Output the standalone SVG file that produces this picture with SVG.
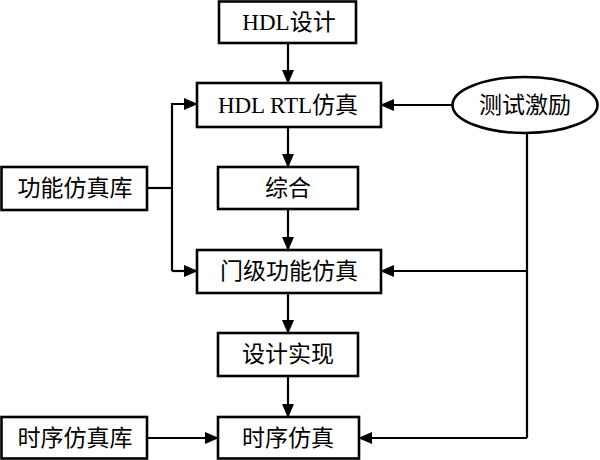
<svg xmlns="http://www.w3.org/2000/svg" width="600" height="460" viewBox="0 0 600 460">
<defs>
<style>
.box{fill:#fff;stroke:#000;stroke-width:2.6}
.t{font-family:"Liberation Serif","Noto Sans CJK SC",serif;font-size:23px;text-anchor:middle;dominant-baseline:central;fill:#000}
.c{fill:none;stroke:#000;stroke-width:2.2}
</style>
<marker id="a" markerWidth="14" markerHeight="12" refX="13" refY="6" orient="auto" markerUnits="userSpaceOnUse">
<path d="M0,0 L14,6 L0,12 Z" fill="#000"/>
</marker>
</defs>
<rect width="600" height="460" fill="#fff"/>
<g id="connectors">
<line class="c" x1="288" y1="43" x2="288" y2="83" marker-end="url(#a)"/>
<line class="c" x1="288" y1="127" x2="288" y2="167" marker-end="url(#a)"/>
<line class="c" x1="288" y1="209" x2="288" y2="250" marker-end="url(#a)"/>
<line class="c" x1="288" y1="293" x2="288" y2="333" marker-end="url(#a)"/>
<line class="c" x1="288" y1="376" x2="288" y2="417" marker-end="url(#a)"/>
<line class="c" x1="147" y1="188" x2="172" y2="188"/>
<polyline class="c" points="172,271 172,104 197,104" marker-end="url(#a)"/>
<line class="c" x1="172" y1="271" x2="197" y2="271" marker-end="url(#a)"/>
<line class="c" x1="452" y1="105" x2="381" y2="105" marker-end="url(#a)"/>
<line class="c" x1="527" y1="133" x2="527" y2="438"/>
<line class="c" x1="527" y1="271" x2="381" y2="271" marker-end="url(#a)"/>
<line class="c" x1="527" y1="438" x2="359" y2="438" marker-end="url(#a)"/>
<line class="c" x1="147" y1="438" x2="218" y2="438" marker-end="url(#a)"/>
</g>
<g id="hdl_design"><rect class="box" x="219" y="1.5" width="137" height="41.5"/><text class="t" x="289" y="22">HDL设计</text></g>
<g id="hdl_rtl_sim"><rect class="box" x="197" y="83" width="184" height="44"/><text class="t" x="288" y="105">HDL RTL仿真</text></g>
<g id="synthesis"><rect class="box" x="218" y="167" width="140" height="42"/><text class="t" x="288" y="188">综合</text></g>
<g id="gate_sim"><rect class="box" x="197" y="250" width="184" height="43"/><text class="t" x="289" y="271">门级功能仿真</text></g>
<g id="impl"><rect class="box" x="218" y="333" width="140" height="43"/><text class="t" x="288" y="354">设计实现</text></g>
<g id="timing_sim"><rect class="box" x="218" y="417" width="141" height="41.5"/><text class="t" x="288" y="438">时序仿真</text></g>
<g id="func_lib"><rect class="box" x="1.5" y="167" width="145.5" height="43"/><text class="t" x="75" y="188">功能仿真库</text></g>
<g id="timing_lib"><rect class="box" x="1.5" y="417" width="145.5" height="41.5"/><text class="t" x="75" y="438">时序仿真库</text></g>
<g id="stimulus"><ellipse class="box" cx="525" cy="105" rx="72.5" ry="28"/><text class="t" x="525" y="105">测试激励</text></g>
</svg>
